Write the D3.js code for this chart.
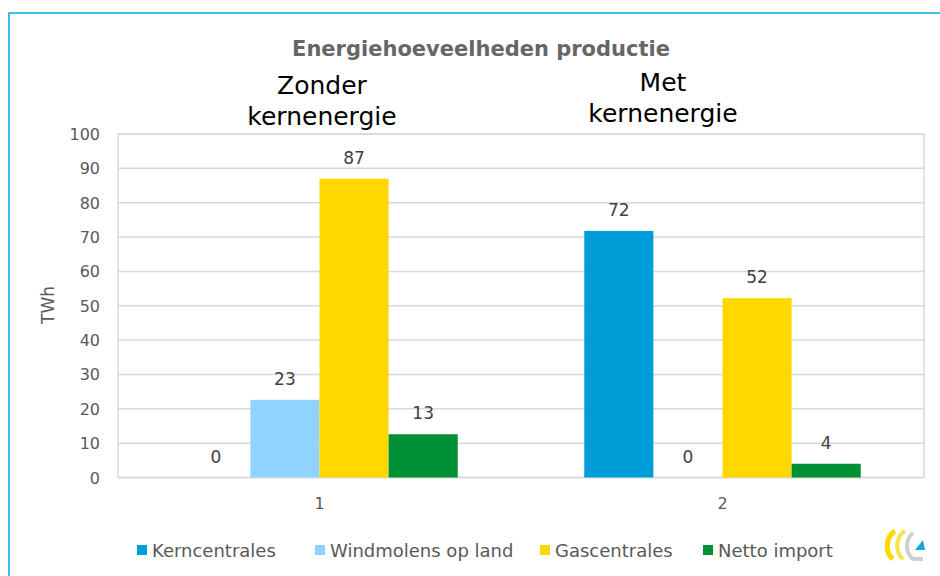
<!DOCTYPE html>
<html>
<head>
<meta charset="utf-8">
<script src="https://cdn.jsdelivr.net/npm/d3@7"></script>
<style>
  body {margin:0; background:#fff;}
  svg text {font-family:"DejaVu Sans", sans-serif;}
</style>
</head>
<body>
<svg width="940" height="576"></svg>
<script>
// data
var categories = ["1", "2"];
var groupTitles = [["Zonder", "kernenergie"], ["Met", "kernenergie"]];
var seriesNames = ["Kerncentrales", "Windmolens op land", "Gascentrales", "Netto import"];
var kerncentrales = [0, 71.8];
var windmolens = [22.6, 0];
var gascentrales = [87, 52.2];
var nettoImport = [12.6, 4.0];
var yTicks = [0, 10, 20, 30, 40, 50, 60, 70, 80, 90, 100];
var colors = ["#009ed8", "#8fd3fe", "#ffd800", "#009035"];

var series = [kerncentrales, windmolens, gascentrales, nettoImport];

var svg = d3.select("svg"),
    pLeft = 118, pRight = 924, pTop = 134, pBottom = 477.5;

// blue frame
svg.append("path")
  .attr("d", "M9,580 V13 H945")
  .attr("fill", "none").attr("stroke", "#00a8e6").attr("stroke-width", 1.5);

var x0 = d3.scaleBand().domain(categories).range([pLeft, pRight]).paddingInner(0.314).paddingOuter(0.157);
var x1 = d3.scaleBand().domain(d3.range(seriesNames.length)).range([0, x0.bandwidth()]);
var y = d3.scaleLinear().domain([0, 100]).range([pBottom, pTop]);

// grid
svg.append("g").selectAll("line").data(yTicks).enter().append("line")
  .attr("x1", pLeft).attr("x2", pRight)
  .attr("y1", function(d) { return y(d); }).attr("y2", function(d) { return y(d); })
  .attr("stroke", "#d9d9d9").attr("stroke-width", 1.5);
svg.append("rect").attr("x", pLeft).attr("y", pTop).attr("width", pRight - pLeft).attr("height", pBottom - pTop)
  .attr("fill", "none").attr("stroke", "#d9d9d9").attr("stroke-width", 1.5);

// y axis labels
svg.append("g").selectAll("text").data(yTicks).enter().append("text")
  .attr("x", 100).attr("y", function(d) { return y(d) + 6; })
  .attr("text-anchor", "end").attr("font-size", 16).attr("fill", "#595959")
  .text(function(d) { return d; });

svg.append("text")
  .attr("transform", "translate(54,305) rotate(-90)")
  .attr("text-anchor", "middle").attr("font-size", 17).attr("fill", "#595959")
  .text("TWh");

// bars
var rows = categories.map(function(c, i) {
  return series.map(function(s, k) { return {cat: c, k: k, v: s[i]}; });
});
var groups = svg.append("g").selectAll("g").data(rows).enter().append("g")
  .attr("transform", function(d, i) { return "translate(" + x0(categories[i]) + ",0)"; });

groups.selectAll("rect").data(function(d) { return d; }).enter().append("rect")
  .attr("x", function(d) { return x1(d.k); })
  .attr("width", x1.bandwidth())
  .attr("y", function(d) { return y(d.v); })
  .attr("height", function(d) { return y(0) - y(d.v); })
  .attr("fill", function(d) { return colors[d.k]; });

groups.selectAll("text").data(function(d) { return d; }).enter().append("text")
  .attr("x", function(d) { return x1(d.k) + x1.bandwidth() / 2; })
  .attr("y", function(d) { return y(d.v) - 15; })
  .attr("text-anchor", "middle").attr("font-size", 17).attr("fill", "#404040")
  .text(function(d) { return Math.round(d.v); });

// category labels
svg.append("g").selectAll("text").data(categories).enter().append("text")
  .attr("x", function(d) { return x0(d) + x0.bandwidth() / 2; })
  .attr("y", 509).attr("text-anchor", "middle").attr("font-size", 16).attr("fill", "#595959")
  .text(function(d) { return d; });

// titles
svg.append("text").attr("x", 481).attr("y", 56).attr("text-anchor", "middle")
  .attr("font-size", 21).attr("font-weight", "bold").attr("fill", "#666")
  .text("Energiehoeveelheden productie");

var gtx = [322, 663], gty = [94, 91];
groupTitles.forEach(function(lines, i) {
  svg.append("g").selectAll("text").data(lines).enter().append("text")
    .attr("text-anchor", "middle").attr("font-size", 25).attr("fill", "#000")
    .attr("x", gtx[i]).attr("y", function(d, j) { return gty[i] + j * 31; })
    .text(function(d) { return d; });
});

// legend
var legX = [137, 315, 540, 703];
var leg = svg.append("g").selectAll("g").data(seriesNames).enter().append("g")
  .attr("transform", function(d, i) { return "translate(" + legX[i] + ",545)"; });
leg.append("rect").attr("width", 10).attr("height", 10).attr("fill", function(d, i) { return colors[i]; });
leg.append("text").attr("x", 15).attr("y", 12).attr("font-size", 18).attr("fill", "#595959")
  .text(function(d) { return d; });

// logo
var logo = svg.append("g").attr("transform", "translate(883,529)");
logo.append("path").attr("d", "M12,2 C2,8 2,24 10,30").attr("fill", "none").attr("stroke", "#ffd800").attr("stroke-width", 5);
logo.append("path").attr("d", "M22,2 C12,8 12,24 20,30").attr("fill", "none").attr("stroke", "#f5e34a").attr("stroke-width", 4);
logo.append("path").attr("d", "M30,4 C22,10 22,24 30,30 L40,30").attr("fill", "none").attr("stroke", "#cfcfcf").attr("stroke-width", 4);
logo.append("path").attr("d", "M32,21 L42,21 L40,11 Z").attr("fill", "#1aa3e0");
</script>
</body>
</html>
